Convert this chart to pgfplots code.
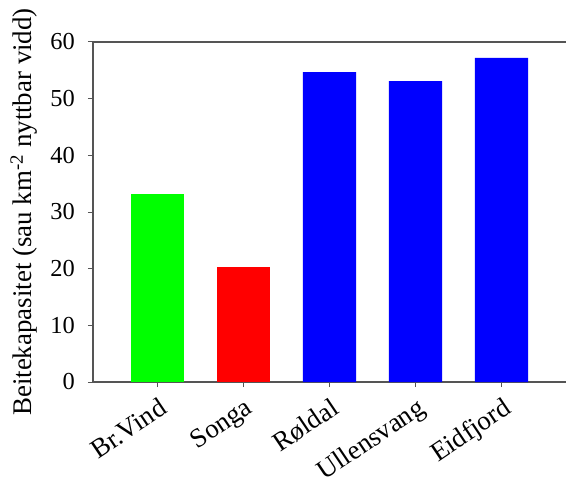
\documentclass[border=0pt]{standalone}
\usepackage{fontspec}
\setmainfont{Liberation Serif}
\usepackage{pgfplots}
\pgfplotsset{compat=1.18}
\definecolor{axgray}{HTML}{555555}
\begin{document}
\fontsize{24}{28}\selectfont
\begin{tikzpicture}
\useasboundingbox (-93bp,-97bp) rectangle (473bp,382bp);
\begin{axis}[
  at={(0,0)}, anchor=south west,
  scale only axis,
  width=473bp, height=340bp,
  xmin=-0.75, xmax=4.75,
  ymin=0, ymax=60,
  axis x line=box, axis y line=left,
  axis line style={-, draw=axgray, line width=1.4bp},
  xtick={0,1,2,3,4},
  xticklabels={Br.Vind, Songa, Røldal, Ullensvang, Eidfjord},
  ytick={0,10,...,60},
  xtick pos=bottom,
  tick align=outside,
  major tick length=5bp,
  tick style={draw=axgray, line width=1bp},
  x tick label style={rotate=34, anchor=north east, inner sep=2bp, yshift=-6bp, xshift=-3bp, font=\fontsize{27}{30}\selectfont},
  y tick label style={xshift=-5bp, font=\fontsize{24.5}{28}\selectfont},
  /pgf/number format/assume math mode=true,
  ylabel={Beitekapasitet (sau km\textsuperscript{-2} nyttbar vidd)},
  ylabel style={at={(axis description cs:-0.146,0.5)}, anchor=center, font=\fontsize{27}{30}\selectfont},
  bar width=0.62,
]
\addplot[ybar, bar shift=0pt, fill={rgb,255:red,0;green,255;blue,0}, draw=none] coordinates {(0,33.2)};
\addplot[ybar, bar shift=0pt, fill={rgb,255:red,255;green,0;blue,0}, draw=none] coordinates {(1,20.3)};
\addplot[ybar, bar shift=0pt, fill={rgb,255:red,0;green,0;blue,255}, draw=none] coordinates {(2,54.7) (3,53.1) (4,57.2)};
\end{axis}
\end{tikzpicture}
\end{document}
